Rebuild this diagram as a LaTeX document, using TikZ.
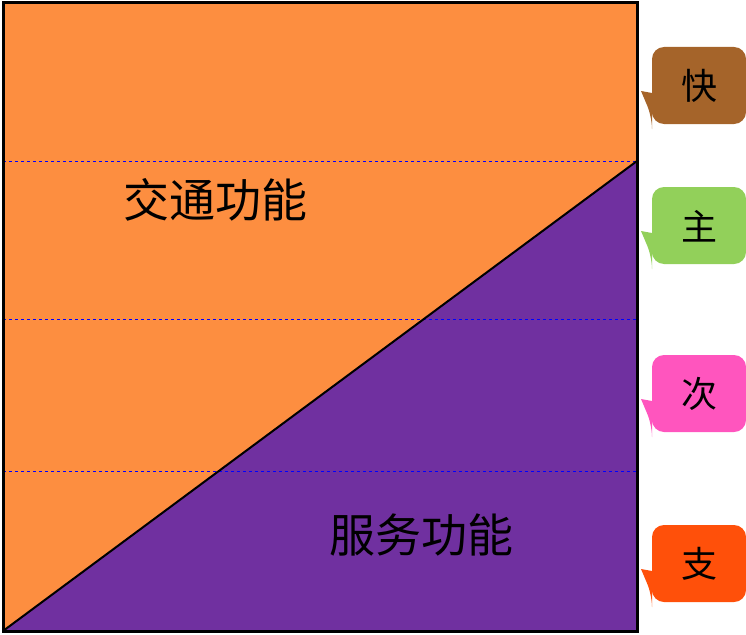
\documentclass[tikz,border=0pt]{standalone}
\usepackage{fontspec}
\newfontfamily\cjk{Noto Sans CJK SC}
\definecolor{roadorange}{RGB}{253,142,64}
\definecolor{roadpurple}{RGB}{112,48,160}
\definecolor{tagbrown}{RGB}{165,100,42}
\definecolor{taggreen}{RGB}{146,208,90}
\definecolor{tagpink}{RGB}{255,85,190}
\definecolor{tagred}{RGB}{255,80,10}
\tikzset{
  level/.style={blue,dashed,thick},
  tagtext/.style={font=\cjk\fontsize{36}{36}\selectfont},
}
% callout: #1 colour, #2 top y, #3 label
\newcommand{\roadtag}[3]{%
  \fill[#1,rounded corners=12pt] (652,#2) -- (746,#2) -- (746,#2+77) -- (652,#2+77) -- (652,#2+70)
    [sharp corners] -- (641,#2+44) -- (652,#2+46) [rounded corners=12pt] -- cycle;
  \node[tagtext] at (699,#2+39) {#3};}
\begin{document}
\begin{tikzpicture}[x=1pt,y=-1pt]
  \useasboundingbox (0,0) rectangle (746,634);
  \fill[roadorange] (3,3) rectangle (637,631);
  \fill[roadpurple] (3,631) -- (637,161) -- (637,631) -- cycle;
  \draw[level] (3,161) -- (637,161);
  \draw[level] (3,319) -- (637,319);
  \draw[level] (3,471) -- (637,471);
  \draw[line width=2pt] (3,631) -- (637,161);
  \draw[line width=3pt] (3,3) rectangle (637,631);
  \node[font=\cjk\fontsize{46}{46}\selectfont] (traffic) at (215,200) {交通功能};
  \node[font=\cjk\fontsize{46}{46}\selectfont] (service) at (421,535) {服务功能};
  \roadtag{tagbrown}{47}{快}
  \roadtag{taggreen}{187}{主}
  \roadtag{tagpink}{355}{次}
  \roadtag{tagred}{525}{支}
\end{tikzpicture}
\end{document}
